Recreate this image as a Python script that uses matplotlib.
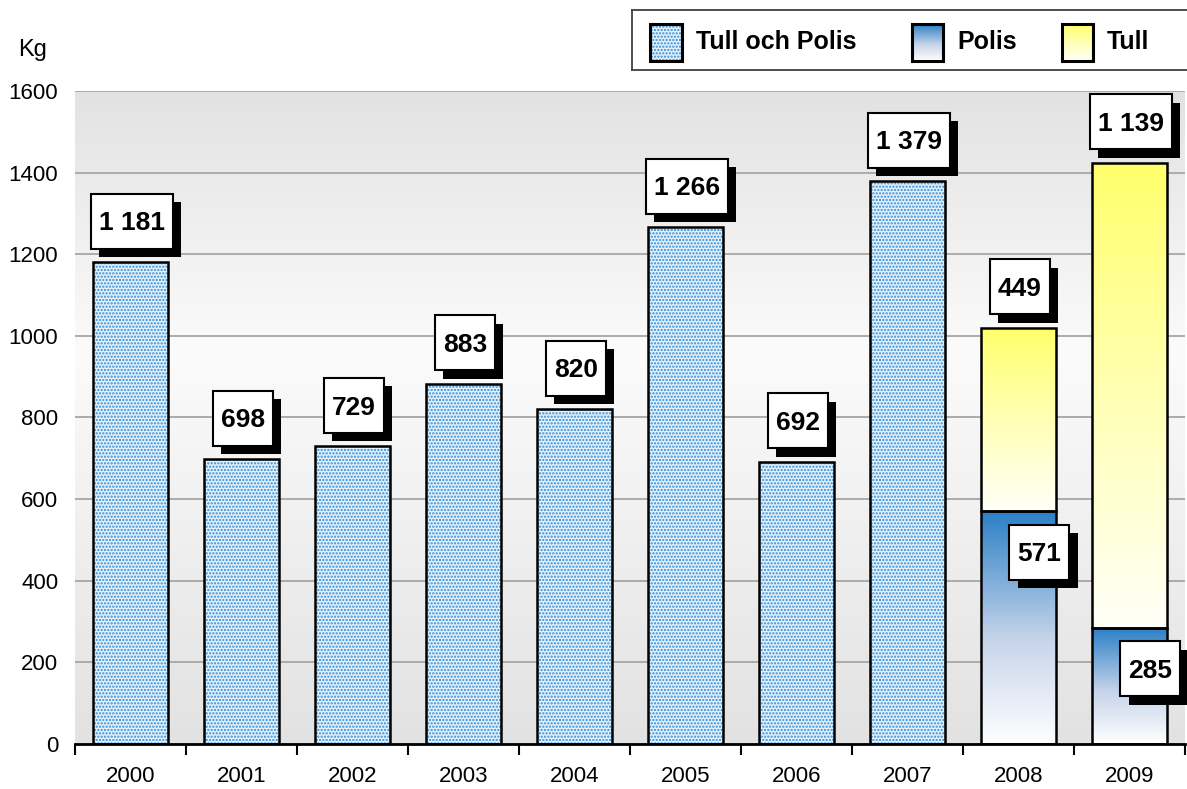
import numpy as np
from matplotlib import pyplot as plt
from matplotlib import patheffects
from matplotlib.colors import LinearSegmentedColormap
from matplotlib.patches import Rectangle
from matplotlib.transforms import IdentityTransform

plt.rcParams['font.family'] = ['Liberation Sans', 'DejaVu Sans']
plt.rcParams['hatch.linewidth'] = 1.1

years = ['2000', '2001', '2002', '2003', '2004', '2005', '2006', '2007', '2008', '2009']
tull_och_polis = [1181, 698, 729, 883, 820, 1266, 692, 1379, 0, 0]
polis = [0, 0, 0, 0, 0, 0, 0, 0, 571, 285]
tull = [0, 0, 0, 0, 0, 0, 0, 0, 449, 1139]
legend_labels = ['Tull och Polis', 'Polis', 'Tull']
y_ticks = [0, 200, 400, 600, 800, 1000, 1200, 1400, 1600]

BAR_W = 0.68
DOT_FACE = '#e6f2fb'
DOT_COLOR = '#2f8cd6'
polis_cmap = LinearSegmentedColormap.from_list('polis', [(0, '#ffffff'), (0.45, '#c6d4ea'), (1, '#2a7fc6')])
tull_cmap = LinearSegmentedColormap.from_list('tull', [(0, '#fffff8'), (0.5, '#ffffb4'), (1, '#ffff6c')])
bg_cmap = LinearSegmentedColormap.from_list('bg', [(0, '#e2e2e2'), (0.6, '#fbfbfb'), (1, '#e2e2e2')])


def fmt(v):
    return f'{v:,}'.replace(',', ' ')


def gradient_fill(ax, rects, cmap):
    grad = np.linspace(0, 1, 256).reshape(-1, 1)
    for r in rects:
        if r.get_height() <= 0:
            continue
        x0, y0 = r.get_x(), r.get_y()
        ax.imshow(grad, cmap=cmap, origin='lower', aspect='auto', interpolation='bicubic',
                  extent=(x0, x0 + r.get_width(), y0, y0 + r.get_height()), zorder=2)


labels = []


def box_label(ax, text, x, y, dx, dy):
    t = ax.annotate(text, (x, y), xytext=(dx, dy), textcoords='offset points',
                    ha='center', va='center', fontsize=19, fontweight='bold', zorder=7)
    labels.append(t)


fig = plt.figure(figsize=(11.87, 7.89), dpi=100)
ax = fig.add_axes([75 / 1187, 1 - 744 / 789, 1110 / 1187, 653 / 789])

x = np.arange(len(years))

# background gradient
ax.imshow(np.linspace(0, 1, 256).reshape(-1, 1), cmap=bg_cmap, origin='lower', aspect='auto',
          extent=(0, 1, 0, 1), transform=ax.transAxes, zorder=0)

# dotted bars (Tull och Polis)
ax.bar(x, tull_och_polis, BAR_W, color=DOT_FACE, edgecolor=DOT_COLOR, hatch='.....', linewidth=0, zorder=2)
ax.bar(x, tull_och_polis, BAR_W, fill=False, edgecolor='black', linewidth=1.8, zorder=3)

# stacked gradient bars
polis_bars = ax.bar(x, polis, BAR_W, fill=False, edgecolor='black', linewidth=1.8, zorder=3)
tull_bars = ax.bar(x, tull, BAR_W, bottom=polis, fill=False, edgecolor='black', linewidth=1.8, zorder=3)
gradient_fill(ax, polis_bars, polis_cmap)
gradient_fill(ax, tull_bars, tull_cmap)

# labels
for i, v in enumerate(tull_och_polis):
    if v > 0:
        box_label(ax, fmt(v), x[i], v, 1, 28)
for i, (p, t) in enumerate(zip(polis, tull)):
    if p > 0:
        box_label(ax, fmt(p), x[i], p, 15, -31)
    if t > 0:
        box_label(ax, fmt(t), x[i], p + t, 1, 28)

ax.set_xlim(-0.5, len(years) - 0.5)
ax.set_ylim(0, 1600)
ax.set_yticks(y_ticks)
ax.set_yticklabels([str(v) for v in y_ticks], fontsize=16)
ax.set_xticks(x)
ax.set_xticklabels(years, fontsize=16)
ax.set_xticks(np.arange(len(years) + 1) - 0.5, minor=True)
ax.tick_params(axis='y', length=0, pad=12)
ax.tick_params(axis='x', which='major', length=0, pad=16)
ax.tick_params(axis='x', which='minor', length=8, width=1.5, color='black', direction='out')
ax.yaxis.grid(True, color='#a6a6a6', linewidth=1.3, zorder=1)
ax.set_axisbelow(True)
for s in ['top', 'right', 'left']:
    ax.spines[s].set_visible(False)
ax.spines['bottom'].set_linewidth(2)
ax.spines['bottom'].set_zorder(5)

fig.text(18 / 1187, 1 - 50 / 789, 'Kg', fontsize=17, va='center', ha='left')

# boxes with shadow behind the value labels (sized in pixels)
fig.canvas.draw()
for t in labels:
    bb = t.get_window_extent()
    cy = (bb.y0 + bb.y1) / 2 + 2
    w, h = bb.width + 16, 55
    box = Rectangle((bb.x0 - 8, cy - h / 2), w, h, transform=IdentityTransform(),
                    facecolor='white', edgecolor='black', linewidth=1.5, zorder=6, clip_on=False)
    box.set_path_effects([
        patheffects.SimplePatchShadow(offset=(6, -6), shadow_rgbFace='black', alpha=1.0),
        patheffects.Normal()])
    ax.add_artist(box)

# legend box
lg = fig.add_axes([632 / 1187, 1 - 70 / 789, 560 / 1187, 60 / 789])
lg.set_xticks([])
lg.set_yticks([])
for s in lg.spines.values():
    s.set_edgecolor('#404040')
    s.set_linewidth(1.3)
grad = np.linspace(0, 1, 128).reshape(-1, 1)
hx = [18, 280, 430]
tx = [64, 325, 475]
lg.add_patch(Rectangle((hx[0], 9), 32, 37, facecolor=DOT_FACE, edgecolor=DOT_COLOR, hatch='.....', linewidth=0))
lg.imshow(grad, cmap=polis_cmap, origin='lower', aspect='auto', extent=(hx[1], hx[1] + 31, 9, 46))
lg.imshow(grad, cmap=tull_cmap, origin='lower', aspect='auto', extent=(hx[2], hx[2] + 31, 9, 46))
for h, w in zip(hx, [32, 31, 31]):
    lg.add_patch(Rectangle((h, 9), w, 37, fill=False, edgecolor='black', linewidth=2.2))
for t, lab in zip(tx, legend_labels):
    lg.text(t, 28, lab, fontsize=18, fontweight='bold', va='center', ha='left')
lg.set_xlim(0, 560)
lg.set_ylim(0, 60)

fig.savefig('out.png', dpi=100)
